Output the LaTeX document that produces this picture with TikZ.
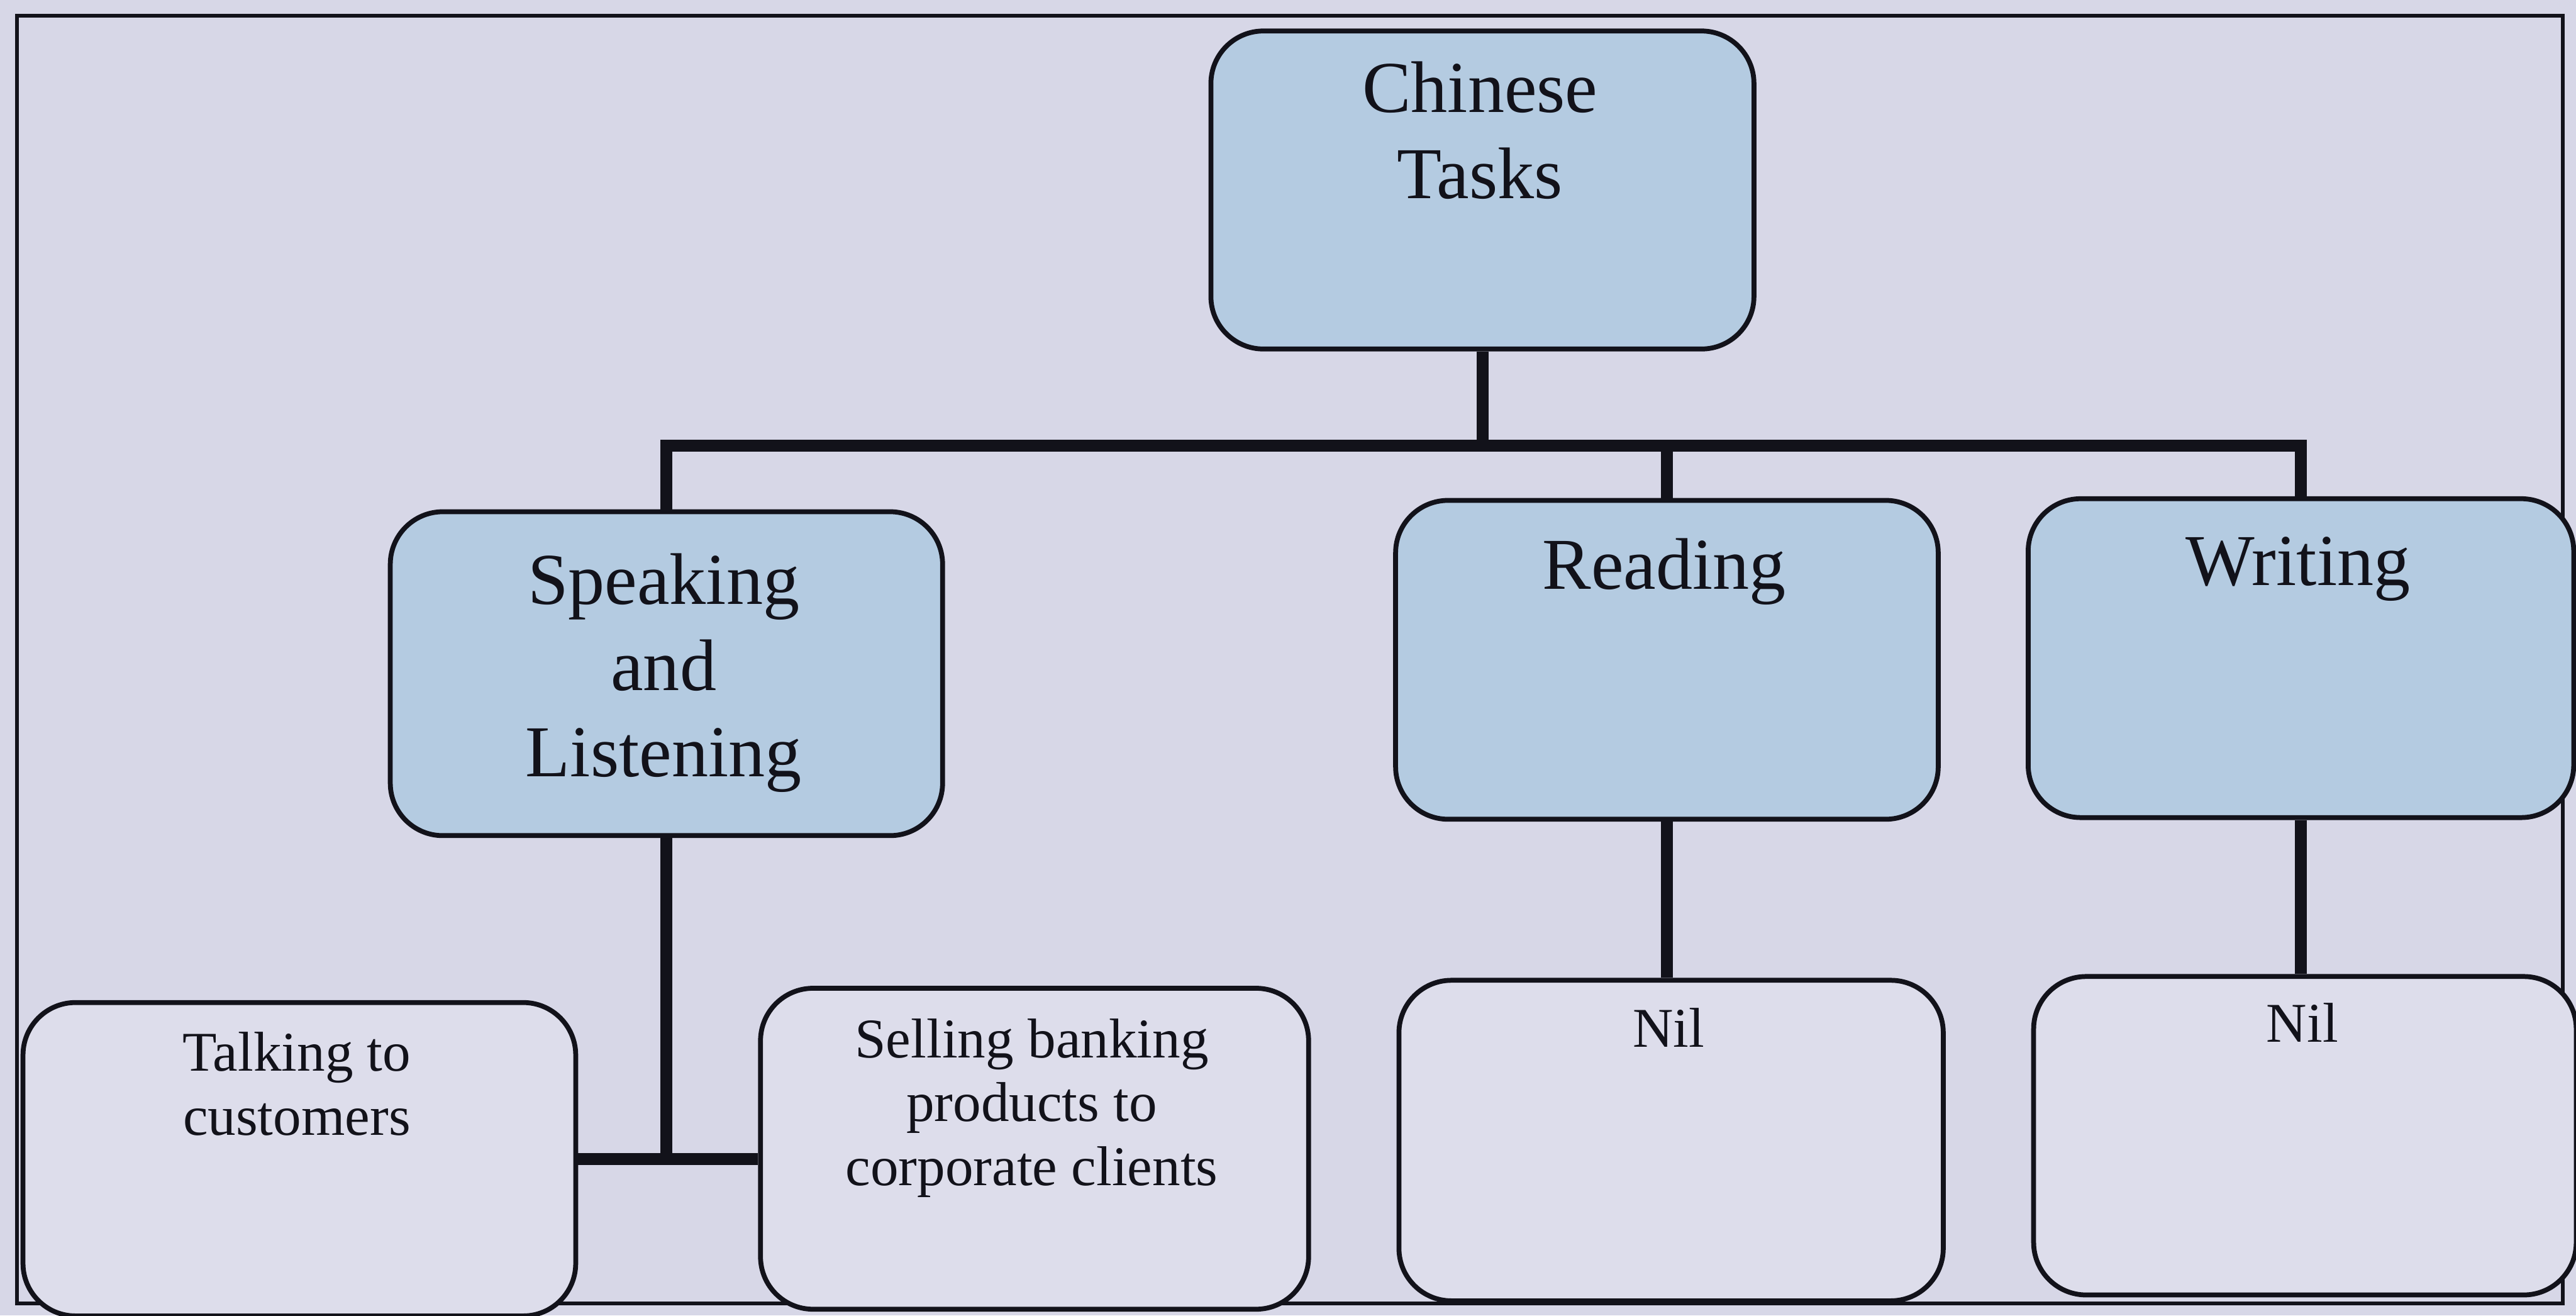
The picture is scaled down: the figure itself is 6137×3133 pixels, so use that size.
\documentclass[tikz,border=0pt]{standalone}
\usepackage{fontspec}
\setmainfont{Liberation Serif}
\usetikzlibrary{calc}
\definecolor{paper}{RGB}{215,215,231}
\definecolor{taskblue}{RGB}{180,203,225}
\definecolor{leaf}{RGB}{221,221,235}
\definecolor{ink}{RGB}{18,18,26}
\begin{document}
\begin{tikzpicture}[x=0.01cm,y=-0.01cm,
  box/.style={draw=ink, line width=3.3pt, rounded corners=1.25cm, inner sep=0pt, anchor=north west},
  taskbox/.style={box, fill=taskblue},
  leafbox/.style={box, fill=leaf},
  bigtext/.style={font=\fontsize{49.5}{58.5}\selectfont, align=center, anchor=north, inner sep=0pt, text=ink},
  smalltext/.style={font=\fontsize{38}{43.2}\selectfont, align=center, anchor=north, inner sep=0pt, text=ink},
  link/.style={draw=ink, line width=8pt}]
\useasboundingbox (0,0) rectangle (6137,3133);
\fill[paper] (0,0) rectangle (6137,3133);
% page frame
\draw[ink, line width=2.6pt] (40,38) rectangle (6105,3105);

% boxes
\node[taskbox, minimum width=12.93cm, minimum height=7.57cm] (ct) at (2879,68) {};
\node[taskbox, minimum width=13.15cm, minimum height=7.71cm] (sl) at (924,1213) {};
\node[taskbox, minimum width=12.92cm, minimum height=7.59cm] (rd) at (3319,1186) {};
\node[taskbox, minimum width=12.99cm, minimum height=7.59cm] (wr) at (4826,1182) {};
\node[leafbox, minimum width=13.16cm, minimum height=7.46cm] (tk) at (49,2382) {};
\node[leafbox, minimum width=13.05cm, minimum height=7.64cm] (sel) at (1806,2348) {};
\node[leafbox, minimum width=12.96cm, minimum height=7.63cm] (n1) at (3327,2329) {};
\node[leafbox, minimum width=12.92cm, minimum height=7.58cm] (n2) at (4839,2320) {};

% labels
\node[bigtext] (ctl) at (3526,146) {Chinese\\Tasks};
\node[bigtext] (sll) at (1581,1317) {Speaking\\and\\Listening};
\node[bigtext] (rdl) at (3965,1282) {Reading};
\node[bigtext] (wrl) at (5475,1278) {Writing};
\node[smalltext] (tkl) at (707,2458) {Talking to\\customers};
\node[smalltext] (sell) at (2458,2426) {Selling banking\\products to\\corporate clients};
\node[smalltext] (n1l) at (3975,2400) {Nil};
\node[smalltext] (n2l) at (5485,2389) {Nil};

% connectors
\draw[link] (ct.south) -- ++(0,224) coordinate (j);
\draw[link] (sl.north) -- (sl.north |- j) -- (wr.north |- j) -- (wr.north);
\draw[link] (rd.north) -- (rd.north |- j);
\draw[link] (sl.south) -- (sl.south |- tk.east);
\draw[link] (tk.east) -- (sel.west |- tk.east);
\draw[link] (rd.south) -- (rd.south |- n1.north);
\draw[link] (wr.south) -- (wr.south |- n2.north);
\end{tikzpicture}
\end{document}
